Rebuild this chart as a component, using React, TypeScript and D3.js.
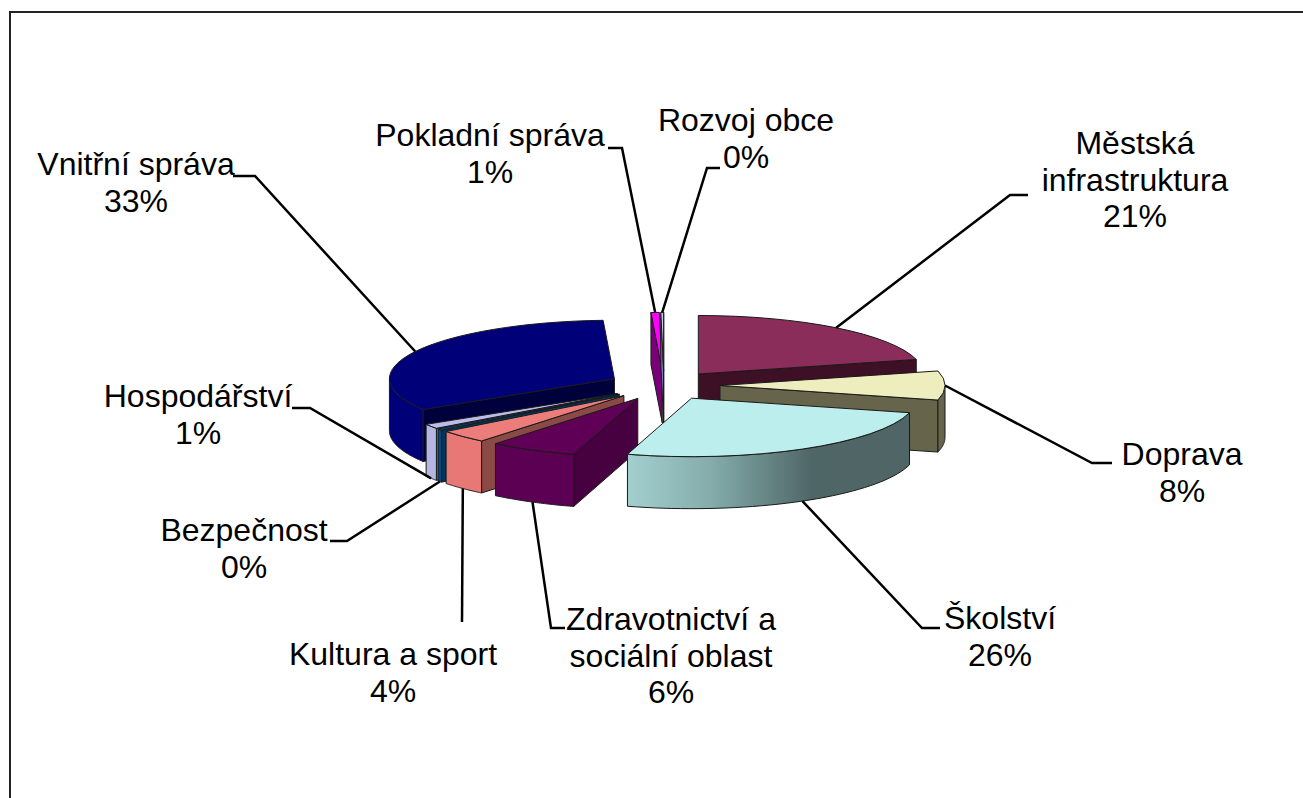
import React from "react";
import * as d3 from "d3";

const categories = [
  "Městská infrastruktura",
  "Doprava",
  "Školství",
  "Zdravotnictví a sociální oblast",
  "Kultura a sport",
  "Bezpečnost",
  "Hospodářství",
  "Vnitřní správa",
  "Pokladní správa",
  "Rozvoj obce",
];
// shares, clockwise from 12 o'clock
const shares = [21, 8, 25.6, 6.3, 3.6, 0.4, 1.3, 33, 0.6, 0.2];
const topColors = ["#8a2d5a", "#eeedbd", "#bceeed", "#5f0056", "#ec7d7a", "#00508f", "#bcbcea", "#000078", "#ff00ff", "#c4c4ee"];
const outerColors = ["#45172d", "#66654c", "url(#skolstviWall)", "#5b0053", "#e87875", "#004a80", "#b6b6e2", "#000078", "#80007f", "#8080c0"];
const innerColors = ["#3d1025", "#66654c", "#5e7776", "#470040", "#8c4a47", "#003560", "#77779a", "#00003c", "#7a007a", "#7878b8"];
// painter's order, back to front
const drawOrder = [8, 9, 0, 1, 7, 6, 5, 4, 3, 2];

const W = 1303;
const H = 798;
const cx = 664;
const cy = 385.5;
const rx = 225;
const ry = 58.5;
const explode = 56;
const depth = 52;
const tilt = ry / rx;

// label text lines, anchor centre, baseline of first line and the elbow of the leader
const labelLines = [
  ["Městská", "infrastruktura"],
  ["Doprava"],
  ["Školství"],
  ["Zdravotnictví a", "sociální oblast"],
  ["Kultura a sport"],
  ["Bezpečnost"],
  ["Hospodářství"],
  ["Vnitřní správa"],
  ["Pokladní správa"],
  ["Rozvoj obce"],
];
const labelX = [1135, 1182, 1000, 671, 393, 244, 198, 136, 490, 746];
const labelY = [154, 465, 629, 630, 665, 541, 407, 175, 146, 131];
const leaderStart = [[1028, 195], [1112, 463], [940, 628], [565, 628], [462, 622], [330, 541], [292, 408], [233, 176], [608, 148], [720, 168]];
const leaderElbow = [[1010, 195], [1092, 463], [922, 628], [551, 628], [462, 622], [347, 541], [310, 408], [255, 176], [622, 148], [707, 168]];

export default function App() {
  const pie = d3.pie<number>().sort(null).value((d) => d);
  const slices = pie(shares);
  const arc = d3.arc<d3.PieArcDatum<number>>().innerRadius(0).outerRadius(rx);
  const line = d3.line();

  const geo = slices.map((s) => {
    // d3 angles are from 12 o'clock, shift to screen angles
    const a0 = s.startAngle - Math.PI / 2;
    const a1 = s.endAngle - Math.PI / 2;
    const mid = (a0 + a1) / 2;
    const ax = cx + explode * Math.cos(mid);
    const ay = cy + explode * tilt * Math.sin(mid);
    const px = (a: number): [number, number] => [ax + rx * Math.cos(a), ay + ry * Math.sin(a)];
    return { s, a0, a1, mid, ax, ay, px };
  });

  const wallPath = (p: [number, number], q: [number, number]) =>
    line([p, q, [q[0], q[1] + depth], [p[0], p[1] + depth]]) + "Z";

  const outerWall = (g: (typeof geo)[number]) => {
    // only the front half of the rim shows
    const from = Math.max(g.a0, 0);
    const to = Math.min(g.a1, Math.PI);
    if (to <= from) return null;
    const rim = d3.range(0, 41).map((i) => g.px(from + ((to - from) * i) / 40));
    const low = rim.map(([x, y]) => [x, y + depth] as [number, number]).reverse();
    return line([...rim, ...low]) + "Z";
  };

  const leaderEnd = (g: (typeof geo)[number]) => {
    const [x, y] = g.px(g.mid);
    return [x, Math.sin(g.mid) > 0.1 ? y + depth : y];
  };

  const edge = { stroke: "#1a1a1a", strokeWidth: 1, strokeLinejoin: "round" as const };

  return (
    <svg
      width={W}
      height={H}
      style={{ position: "absolute", left: 0, top: 0, background: "#fff" }}
      fontFamily="'Liberation Sans', Arial, sans-serif"
    >
      <defs>
        <linearGradient id="skolstviWall" gradientUnits="userSpaceOnUse" x1={629} x2={910} y1={0} y2={0}>
          <stop offset="0" stopColor="#a2cfce" />
          <stop offset="0.3" stopColor="#83abaa" />
          <stop offset="0.65" stopColor="#4f6667" />
          <stop offset="1" stopColor="#4f6566" />
        </linearGradient>
      </defs>

      <path d={`M10,798V12H${W}`} fill="none" stroke="#222" strokeWidth={2} />

      {drawOrder.map((i) => {
        const g = geo[i];
        const outer = outerWall(g);
        const showStart = Math.cos(g.a0) < 0;
        const showEnd = Math.cos(g.a1) > 0;
        return (
          <g key={categories[i]}>
            {showStart && <path d={wallPath([g.ax, g.ay], g.px(g.a0))} fill={innerColors[i]} {...edge} />}
            {showEnd && <path d={wallPath([g.ax, g.ay], g.px(g.a1))} fill={innerColors[i]} {...edge} />}
            {outer && <path d={outer} fill={outerColors[i]} {...edge} />}
            <path
              d={arc(g.s) as string}
              transform={`translate(${g.ax},${g.ay}) scale(1,${tilt})`}
              fill={topColors[i]}
              vectorEffect="non-scaling-stroke"
              {...edge}
            />
          </g>
        );
      })}

      {geo.map((g, i) => {
        const [ex, ey] = leaderEnd(g);
        const pts = [leaderStart[i], leaderElbow[i], [ex, ey]] as [number, number][];
        return <path key={i} d={line(pts) as string} fill="none" stroke="#000" strokeWidth={2.5} />;
      })}

      {categories.map((c, i) => (
        <text key={c} textAnchor="middle" fontSize={32} fill="#000" x={labelX[i]} y={labelY[i]}>
          {labelLines[i].map((t, j) => (
            <tspan key={j} x={labelX[i]} dy={j === 0 ? 0 : 36.5}>
              {t}
            </tspan>
          ))}
          <tspan x={labelX[i]} dy={36.5}>
            {Math.round(shares[i])}%
          </tspan>
        </text>
      ))}
    </svg>
  );
}
